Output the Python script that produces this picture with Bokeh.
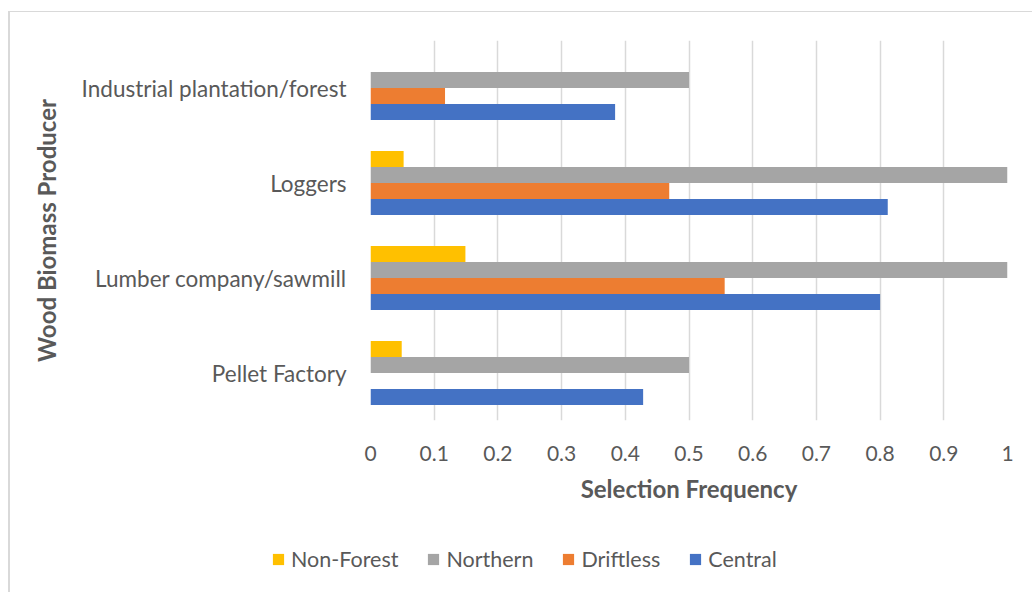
from bokeh.plotting import figure
from bokeh.layouts import column
from bokeh.models import ColumnDataSource, FactorRange, Range1d, Legend, LegendItem
from bokeh.transform import dodge
from bokeh.embed import file_html
from bokeh.resources import INLINE

# Data (top-to-bottom order in the reference)
categories = ["Industrial plantation/forest", "Loggers", "Lumber company/sawmill", "Pellet Factory"]
series_names = ["Non-Forest", "Northern", "Driftless", "Central"]
non_forest = [0.0, 0.052, 0.149, 0.049]
northern = [0.5, 1.0, 1.0, 0.5]
driftless = [0.117, 0.469, 0.556, 0.0]
central = [0.384, 0.812, 0.80, 0.428]
x_ticks = [0, 0.1, 0.2, 0.3, 0.4, 0.5, 0.6, 0.7, 0.8, 0.9, 1]

colors = ["#FFC000", "#A5A5A5", "#ED7D31", "#4472C4"]
FONT = "Lato"
TXT = "#595959"

source = ColumnDataSource(dict(
    cat=categories,
    nf=non_forest,
    no=northern,
    dr=driftless,
    ce=central,
))

W = 1022
p = figure(
    width=W, height=518,
    y_range=FactorRange(factors=list(reversed(categories))),
    x_range=Range1d(0, 1),
    output_backend="svg", toolbar_location=None,
    min_border_left=360, min_border_right=25, min_border_top=28, min_border_bottom=110,
)
p.frame_align = False
p.outline_line_color = None
p.background_fill_color = "white"
p.border_fill_color = "white"

bar_h = 0.168
offsets = [1.5 * bar_h, 0.5 * bar_h, -0.5 * bar_h, -1.5 * bar_h]
cols = ["nf", "no", "dr", "ce"]
for col, off, c in zip(cols, offsets, colors):
    p.hbar(y=dodge("cat", off, range=p.y_range), left=0, right=col, height=bar_h,
           source=source, fill_color=c, line_color=None)

# Axes
p.xaxis.ticker = x_ticks
p.xaxis.major_label_overrides = {0: "0", 1: "1"}
p.xaxis.axis_line_color = None
p.xaxis.major_tick_line_color = None
p.xaxis.minor_tick_line_color = None
p.xaxis.major_label_text_font = FONT
p.xaxis.major_label_text_font_size = "21px"
p.xaxis.major_label_text_color = TXT
p.xaxis.major_label_standoff = 19
p.xaxis.axis_label = "Selection Frequency"
p.xaxis.axis_label_text_font = FONT
p.xaxis.axis_label_text_font_style = "bold"
p.xaxis.axis_label_text_font_size = "24px"
p.xaxis.axis_label_text_color = TXT
p.xaxis.axis_label_standoff = 10

p.yaxis.axis_line_color = None
p.yaxis.major_tick_line_color = None
p.yaxis.minor_tick_line_color = None
p.yaxis.major_label_text_font = FONT
p.yaxis.major_label_text_font_size = "22.5px"
p.yaxis.major_label_text_color = TXT
p.yaxis.major_label_standoff = 18
p.yaxis.axis_label = "Wood Biomass Producer"
p.yaxis.axis_label_text_font = FONT
p.yaxis.axis_label_text_font_style = "bold"
p.yaxis.axis_label_text_font_size = "24px"
p.yaxis.axis_label_text_color = TXT
p.yaxis.axis_label_standoff = 18

p.ygrid.grid_line_color = None
p.xgrid.grid_line_color = "#d9d9d9"
p.xgrid.grid_line_width = 1.5

# Legend strip (same series; legend only, its bars have no extent in this strip)
p2 = figure(
    width=W, height=62,
    y_range=FactorRange(factors=list(reversed(categories))),
    x_range=Range1d(5, 6),
    x_axis_location=None, y_axis_location=None,
    output_backend="svg", toolbar_location=None,
    min_border=0,
)
p2.frame_align = False
p2.grid.visible = False
p2.outline_line_color = None
leg_renderers = []
for col, off, c in zip(cols, offsets, colors):
    r = p2.hbar(y=dodge("cat", off, range=p2.y_range), left=0, right=col, height=0,
                source=source, fill_color=c, line_color=None)
    leg_renderers.append(r)

legend = Legend(
    items=[LegendItem(label=n, renderers=[r]) for n, r in zip(series_names, leg_renderers)],
    orientation="horizontal",
    location=(261, 20),
    label_text_font=FONT,
    label_text_font_size="21.5px",
    label_text_color=TXT,
    glyph_width=14, glyph_height=14,
    label_standoff=6,
    spacing=28,
    padding=4,
    margin=0,
    border_line_color=None,
    background_fill_alpha=0,
)
p2.add_layout(legend, "center")

layout = column(p, p2, spacing=0)
layout.styles = {
    "margin-left": "8px",
    "margin-top": "11px",
    "border-left": "2px solid #d9d9d9",
    "border-top": "1px solid #d9d9d9",
}

open("out.html", "w").write(file_html(layout, INLINE))
